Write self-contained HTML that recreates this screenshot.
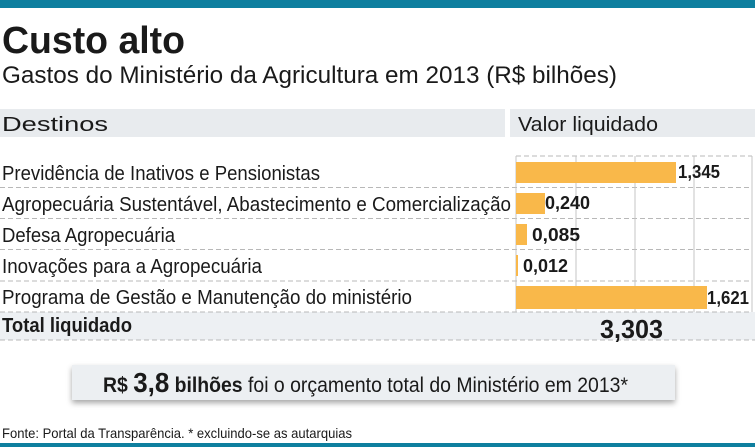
<!DOCTYPE html>
<html><head><meta charset="utf-8"><style>
html,body{margin:0;padding:0;background:#fff}
svg{display:block}
text{font-family:"Liberation Sans",sans-serif;fill:#1a1a1a}
</style></head><body>
<svg width="755" height="447" viewBox="0 0 755 447" xmlns="http://www.w3.org/2000/svg">
<defs><filter id="sh" x="-5%" y="-30%" width="110%" height="180%"><feDropShadow dx="0" dy="3" stdDeviation="3" flood-color="#000" flood-opacity="0.35"/></filter></defs>
<rect x="0" y="0" width="755" height="8" fill="#0e7f9f"/>
<text x="2" y="53" font-size="38" font-weight="bold" textLength="183" lengthAdjust="spacingAndGlyphs">Custo alto</text>
<text x="2" y="83" font-size="24" textLength="615" lengthAdjust="spacingAndGlyphs">Gastos do Ministério da Agricultura em 2013 (R$ bilhões)</text>
<rect x="0" y="109" width="505" height="28" fill="#e8ebee"/>
<rect x="510" y="109" width="245" height="28" fill="#e8ebee"/>
<text x="2" y="131" font-size="20" textLength="106" lengthAdjust="spacingAndGlyphs">Destinos</text>
<text x="518" y="131" font-size="20" textLength="140" lengthAdjust="spacingAndGlyphs">Valor liquidado</text>
<rect x="0" y="312" width="755" height="28" fill="#edf0f3"/>
<g stroke="#b8b8b8" stroke-width="1" stroke-dasharray="5,3" fill="none">
<line x1="516" y1="156" x2="752" y2="156"/>
<line x1="0" y1="187.5" x2="752" y2="187.5"/>
<line x1="0" y1="218.5" x2="752" y2="218.5"/>
<line x1="0" y1="249.5" x2="752" y2="249.5"/>
<line x1="0" y1="281" x2="752" y2="281"/>
<line x1="0" y1="312" x2="752" y2="312"/>
<line x1="0" y1="340" x2="755" y2="340"/>
</g>
<g stroke="#c4c4c4" stroke-width="1">
<line x1="516" y1="156" x2="516" y2="312"/>
<line x1="576" y1="156" x2="576" y2="312"/>
<line x1="635" y1="156" x2="635" y2="312"/>
<line x1="694" y1="156" x2="694" y2="312"/>
<line x1="752" y1="156" x2="752" y2="312"/>
</g>
<g fill="#f9b84a">
<rect x="516" y="162" width="160" height="21"/>
<rect x="516" y="193" width="29" height="21"/>
<rect x="516" y="224" width="11" height="21"/>
<rect x="516" y="255" width="2" height="21"/>
<rect x="516" y="286" width="191" height="23"/>
</g>
<g font-size="20">
<text x="2" y="180" textLength="318" lengthAdjust="spacingAndGlyphs">Previdência de Inativos e Pensionistas</text>
<text x="2" y="211" textLength="509" lengthAdjust="spacingAndGlyphs">Agropecuária Sustentável, Abastecimento e Comercialização</text>
<text x="2" y="242" textLength="173" lengthAdjust="spacingAndGlyphs">Defesa Agropecuária</text>
<text x="2" y="273" textLength="260" lengthAdjust="spacingAndGlyphs">Inovações para a Agropecuária</text>
<text x="2" y="304" textLength="410" lengthAdjust="spacingAndGlyphs">Programa de Gestão e Manutenção do ministério</text>
<text x="2" y="332" font-weight="bold" textLength="130" lengthAdjust="spacingAndGlyphs">Total liquidado</text>
</g>
<g font-size="18" font-weight="bold">
<text x="678" y="178" textLength="42" lengthAdjust="spacingAndGlyphs">1,345</text>
<text x="545" y="209" textLength="45" lengthAdjust="spacingAndGlyphs">0,240</text>
<text x="532" y="241" textLength="48" lengthAdjust="spacingAndGlyphs">0,085</text>
<text x="523" y="272" textLength="45" lengthAdjust="spacingAndGlyphs">0,012</text>
<text x="707" y="304" textLength="42" lengthAdjust="spacingAndGlyphs">1,621</text>
</g>
<text x="600" y="338" font-size="26" font-weight="bold" textLength="63" lengthAdjust="spacingAndGlyphs">3,303</text>
<rect x="72" y="365" width="603" height="35" fill="#eceff2" filter="url(#sh)"/>
<text x="103" y="392" font-size="21" textLength="525" lengthAdjust="spacingAndGlyphs"><tspan font-weight="bold">R$ </tspan><tspan font-weight="bold" font-size="28">3,8</tspan><tspan font-weight="bold"> bilhões</tspan> foi o orçamento total do Ministério em 2013*</text>
<text x="2" y="438" font-size="14" textLength="350" lengthAdjust="spacingAndGlyphs">Fonte: Portal da Transparência. * excluindo-se as autarquias</text>
<rect x="0" y="443" width="755" height="4" fill="#0e7f9f"/>
</svg>
</body></html>
